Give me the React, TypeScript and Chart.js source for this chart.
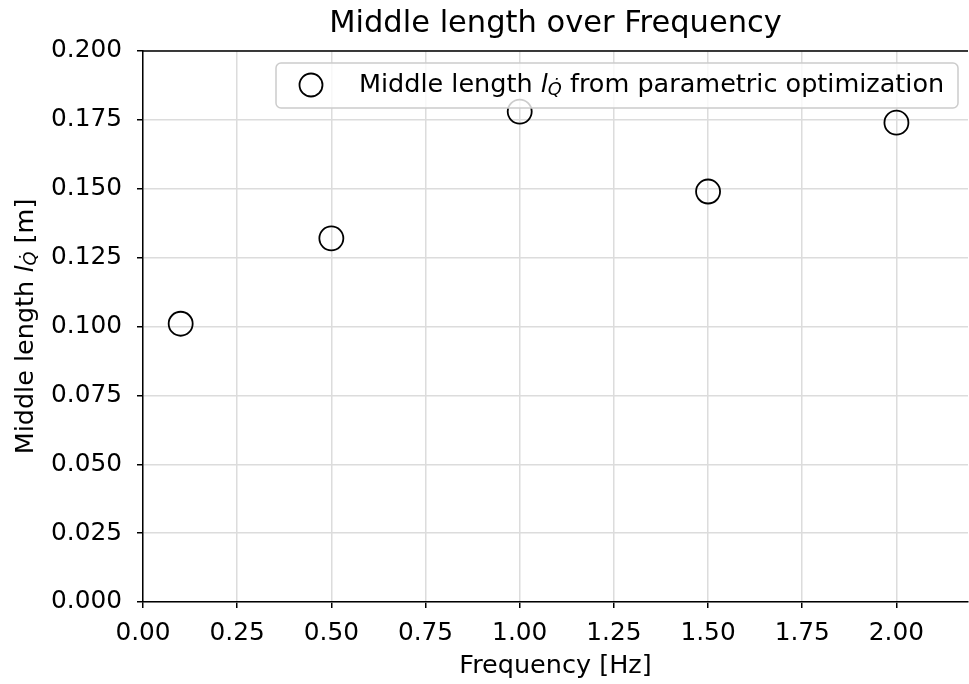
import React, { useEffect, useRef } from "react";
import { Chart, registerables } from "chart.js";

Chart.register(...registerables);

const xValues = [0.1, 0.5, 1.0, 1.5, 2.0];
const yValues = [0.101, 0.132, 0.178, 0.149, 0.174];
const xTicks = [0, 0.25, 0.5, 0.75, 1.0, 1.25, 1.5, 1.75, 2.0];
const yTicks = [0, 0.025, 0.05, 0.075, 0.1, 0.125, 0.15, 0.175, 0.2];
const titleText = "Middle length over Frequency";
const xTitle = "Frequency [Hz]";

const FONT = "DejaVu Sans";
const FS = 24.8;
const LFS = 25.5;

type Seg = { t: string; f: string; dy: number };

function labelSegs(prefix: string, suffix: string): Seg[] {
  return [
    { t: prefix, f: `${LFS}px "${FONT}"`, dy: 0 },
    { t: "l", f: `italic ${LFS}px "${FONT}"`, dy: 0 },
    { t: "Q\u0307", f: `italic ${LFS * 0.7}px "${FONT}"`, dy: 5 },
    { t: suffix, f: `${LFS}px "${FONT}"`, dy: 0 },
  ];
}

function drawMixed(ctx: CanvasRenderingContext2D, segs: Seg[], x: number, y: number, align: "left" | "center") {
  let total = 0;
  const widths = segs.map((s) => {
    ctx.font = s.f;
    const w = ctx.measureText(s.t).width;
    total += w;
    return w;
  });
  let cx = align === "center" ? x - total / 2 : x;
  ctx.textAlign = "left";
  ctx.textBaseline = "middle";
  ctx.fillStyle = "#000";
  segs.forEach((s, i) => {
    ctx.font = s.f;
    ctx.fillText(s.t, cx, y + s.dy);
    cx += widths[i];
  });
}

const customPlugin = {
  id: "custom",
  afterDatasetsDraw(chart: any) {
    const ctx: CanvasRenderingContext2D = chart.ctx;
    const { left, right, top } = chart.chartArea;
    ctx.save();
    // top spine
    ctx.strokeStyle = "#000";
    ctx.lineWidth = 1.5;
    ctx.beginPath();
    ctx.moveTo(left - 0.75, top);
    ctx.lineTo(right, top);
    ctx.stroke();

    // legend
    const lx = 276, ly = 63, lw = 682, lh = 45, r = 5;
    ctx.beginPath();
    ctx.moveTo(lx + r, ly);
    ctx.arcTo(lx + lw, ly, lx + lw, ly + lh, r);
    ctx.arcTo(lx + lw, ly + lh, lx, ly + lh, r);
    ctx.arcTo(lx, ly + lh, lx, ly, r);
    ctx.arcTo(lx, ly, lx + lw, ly, r);
    ctx.closePath();
    ctx.fillStyle = "rgba(255,255,255,0.8)";
    ctx.fill();
    ctx.strokeStyle = "#cccccc";
    ctx.lineWidth = 1.5;
    ctx.stroke();

    ctx.beginPath();
    ctx.arc(311, 85, 11.5, 0, Math.PI * 2);
    ctx.strokeStyle = "#000";
    ctx.lineWidth = 1.8;
    ctx.stroke();

    drawMixed(ctx, labelSegs("Middle length ", " from parametric optimization"), 359, 85, "left");

    // y axis title
    ctx.translate(26, (chart.chartArea.top + chart.chartArea.bottom) / 2);
    ctx.rotate(-Math.PI / 2);
    drawMixed(ctx, labelSegs("Middle length ", " [m]"), 0, 0, "center");
    ctx.restore();
  },
};

export default function App() {
  const ref = useRef<HTMLCanvasElement>(null);
  useEffect(() => {
    document.body.style.margin = "0";
    const chart = new Chart(ref.current!, {
      type: "scatter",
      data: {
        datasets: [
          {
            label: "Middle length",
            data: xValues.map((x, i) => ({ x, y: yValues[i] })),
            pointRadius: 12,
            pointHoverRadius: 12,
            pointBorderWidth: 1.8,
            pointBorderColor: "#000",
            pointBackgroundColor: "rgba(0,0,0,0)",
            showLine: false,
          },
        ],
      },
      options: {
        animation: false,
        responsive: true,
        maintainAspectRatio: false,
        layout: { autoPadding: false, padding: { left: 0, right: 1, top: 0, bottom: 0 } },
        plugins: {
          legend: { display: false },
          tooltip: { enabled: false },
          title: {
            display: true,
            fullSize: false,
            text: titleText,
            color: "#000",
            font: { family: FONT, size: 30.5, weight: "normal", lineHeight: 1.2 },
            padding: { top: 5.4, bottom: 9 },
          },
        },
        scales: {
          x: {
            type: "linear",
            min: 0,
            max: 2.19,
            afterBuildTicks: (s: any) => {
              s.ticks = xTicks.map((v) => ({ value: v }));
            },
            afterFit: (s: any) => {
              s.height = 82;
            },
            ticks: {
              color: "#000",
              font: { family: FONT, size: FS },
              padding: 11,
              maxRotation: 0,
              autoSkip: false,
              callback: (v: any) => Number(v).toFixed(2),
            },
            grid: {
              color: "#dcdcdc",
              lineWidth: 1.5,
              tickColor: "#000",
              tickWidth: 1.5,
              tickLength: 6,
            },
            border: { color: "#000", width: 1.5 },
            title: {
              display: true,
              text: xTitle,
              color: "#000",
              font: { family: FONT, size: LFS },
              padding: { top: 0, bottom: 2 },
            },
          },
          y: {
            type: "linear",
            min: 0,
            max: 0.2,
            afterBuildTicks: (s: any) => {
              s.ticks = yTicks.map((v) => ({ value: v }));
            },
            afterFit: (s: any) => {
              s.width = 143;
            },
            ticks: {
              color: "#000",
              font: { family: FONT, size: FS },
              padding: 15,
              autoSkip: false,
              callback: (v: any) => Number(v).toFixed(3),
            },
            grid: {
              color: "#dcdcdc",
              lineWidth: 1.5,
              tickColor: "#000",
              tickWidth: 1.5,
              tickLength: 6,
            },
            border: { color: "#000", width: 1.5 },
          },
        },
      },
      plugins: [customPlugin],
    });
    return () => chart.destroy();
  }, []);
  return (
    <div style={{ width: 969, height: 684, position: "relative", background: "#fff" }}>
      <canvas ref={ref} />
    </div>
  );
}
